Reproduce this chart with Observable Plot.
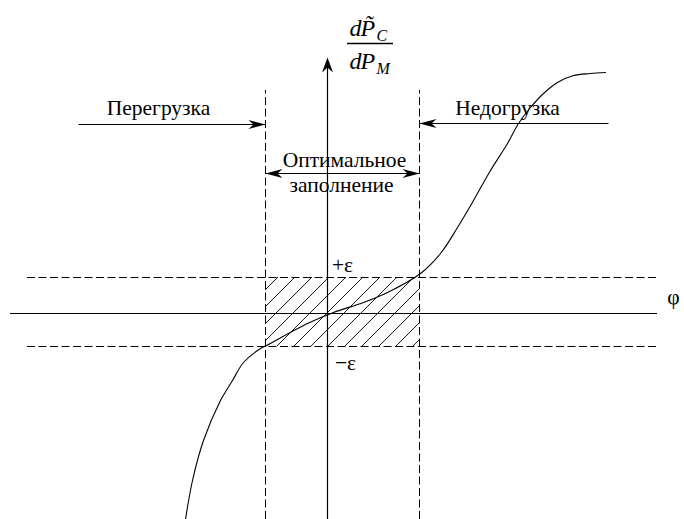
<!DOCTYPE html>
<html>
<head>
<meta charset="utf-8">
<script src="https://cdn.jsdelivr.net/npm/d3@7"></script>
<script src="https://cdn.jsdelivr.net/npm/@observablehq/plot@0.6"></script>
<style>
  html, body { margin: 0; padding: 0; background: #fff; }
  #chart svg { display: block; }
</style>
</head>
<body>
<div id="chart"></div>
<script>
// ---- data (diagram units: x from the vertical axis, y from the φ line) ----
const curveX = [-142, -135, -124, -107, -95, -84, -67, -61, -20, 6, 36, 60, 93, 113, 130, 146, 163, 180, 191, 203, 216, 230, 246, 263, 278];
const curveY = [-206, -167, -127, -87, -67, -49, -35, -32, -10, 1, 11, 21, 40, 60, 86, 113, 143, 170, 190, 206, 220, 231, 238, 240, 241];

const bounds = [-62, 92];          // overload / underload boundaries
const epsilonLevels = [36, -33];   // +ε and −ε
const phiLevel = [0];
const boundsTop = 223;
const yBottom = -206;
const axisTop = 256;
const phiSpan = [-317, 330];
const epsSpan = [-300, 332];

const labelText = ["Перегрузка", "Недогрузка", "Оптимальное", "заполнение", "+ε", "−ε", "φ"];
const labelX = [-169, 180, 17, 14, 15, 18, 346];
const labelY = [205, 205, 153, 128, 48, -50, 16];

const arrowY = [189, 190, 140];    // overload arrow, underload arrow, double arrow
const arrowFromX = [-249, 281, -62];
const arrowToX = [-62, 92, 92];

const fracText = ["d", "P\u0303", "C", "d", "P", "M"];
const fracX = [22, 33, 49, 22, 33, 49];
const fracY = [278, 278, 273, 245, 245, 240];
const fracSize = [24, 24, 16, 24, 24, 16];
const fracBarX = [20, 66];
const fracBarY = 270;

// ---- build tables ----
const curve = curveX.map((x, i) => ({x, y: curveY[i]}));
const labels = labelText.map((t, i) => ({t, x: labelX[i], y: labelY[i]}));
const arrows = arrowY.map((y, i) => ({x1: arrowFromX[i], x2: arrowToX[i], y}));
const frac = fracText.map((t, i) => ({t, x: fracX[i], y: fracY[i], s: fracSize[i]}));

// arrowhead symbols (tip at the point)
const L = 17, W = 4.5, N = 5;
const headRight = {draw(c) { c.moveTo(0, 0); c.lineTo(-L, -W); c.lineTo(-L + N, 0); c.lineTo(-L, W); c.closePath(); }};
const headLeft  = {draw(c) { c.moveTo(0, 0); c.lineTo(L, -W); c.lineTo(L - N, 0); c.lineTo(L, W); c.closePath(); }};
const headUp    = {draw(c) { c.moveTo(0, 0); c.lineTo(-W - 1, L - 2); c.lineTo(0, L - 2 - N); c.lineTo(W + 1, L - 2); c.closePath(); }};

const headsRight = [{x: bounds[0], y: arrowY[0]}, {x: bounds[1], y: arrowY[2]}];
const headsLeft = [{x: bounds[1], y: arrowY[1]}, {x: bounds[0], y: arrowY[2]}];
const headsUp = [{x: 0, y: axisTop}];

const font = "Liberation Serif, Times New Roman, serif";

const svg = Plot.plot({
  width: 684,
  height: 519,
  margin: 0,
  style: {background: "#fff", fontFamily: font},
  x: {domain: [-327, 357], range: [0, 684], axis: null},
  y: {domain: [-206, 313], range: [519, 0], axis: null},
  marks: [
    // hatched region
    Plot.rect([{}], {x1: () => bounds[0], x2: () => bounds[1], y1: () => epsilonLevels[1], y2: () => epsilonLevels[0], fill: "url(#hatch)"}),
    // φ line
    Plot.ruleY(phiLevel, {x1: phiSpan[0], x2: phiSpan[1], stroke: "#000", strokeWidth: 1.2}),
    // ±ε dashed lines
    Plot.ruleY(epsilonLevels, {x1: epsSpan[0], x2: epsSpan[1], stroke: "#000", strokeWidth: 1, strokeDasharray: "8,3.5"}),
    // boundary dashed verticals
    Plot.ruleX(bounds, {y1: yBottom, y2: boundsTop, stroke: "#000", strokeWidth: 1, strokeDasharray: "8,3.5"}),
    // vertical axis
    Plot.ruleX([0], {y1: yBottom, y2: axisTop - 8, stroke: "#000", strokeWidth: 1.2}),
    // horizontal arrows
    Plot.link(arrows, {x1: "x1", x2: "x2", y1: "y", y2: "y", stroke: "#000", strokeWidth: 1.1}),
    Plot.dot(headsRight, {x: "x", y: "y", symbol: headRight, fill: "#000", stroke: "none"}),
    Plot.dot(headsLeft, {x: "x", y: "y", symbol: headLeft, fill: "#000", stroke: "none"}),
    Plot.dot(headsUp, {x: "x", y: "y", symbol: headUp, fill: "#000", stroke: "none"}),
    // curve
    Plot.line(curve, {x: "x", y: "y", curve: "catmull-rom", stroke: "#000", strokeWidth: 1.1}),
    // labels
    Plot.text(labels, {x: "x", y: "y", text: "t", fontSize: 21.5, fill: "#000", fontFamily: font}),
    // fraction
    Plot.text(frac, {x: "x", y: "y", text: "t", fontSize: "s", textAnchor: "start", lineAnchor: "bottom", fontStyle: "italic", fill: "#000", fontFamily: font}),
    Plot.ruleY([fracBarY], {x1: fracBarX[0], x2: fracBarX[1], stroke: "#000", strokeWidth: 1.3})
  ]
});

const defs = d3.select(svg).insert("defs", ":first-child");
const pat = defs.append("pattern")
  .attr("id", "hatch")
  .attr("patternUnits", "userSpaceOnUse")
  .attr("x", 11).attr("y", 0)
  .attr("width", 17).attr("height", 17);
pat.append("path")
  .attr("d", "M0,17L17,0M-4,4L4,-4M13,21L21,13")
  .attr("stroke", "#000")
  .attr("stroke-width", 0.9)
  .attr("fill", "none");

document.getElementById("chart").appendChild(svg);
</script>
</body>
</html>
